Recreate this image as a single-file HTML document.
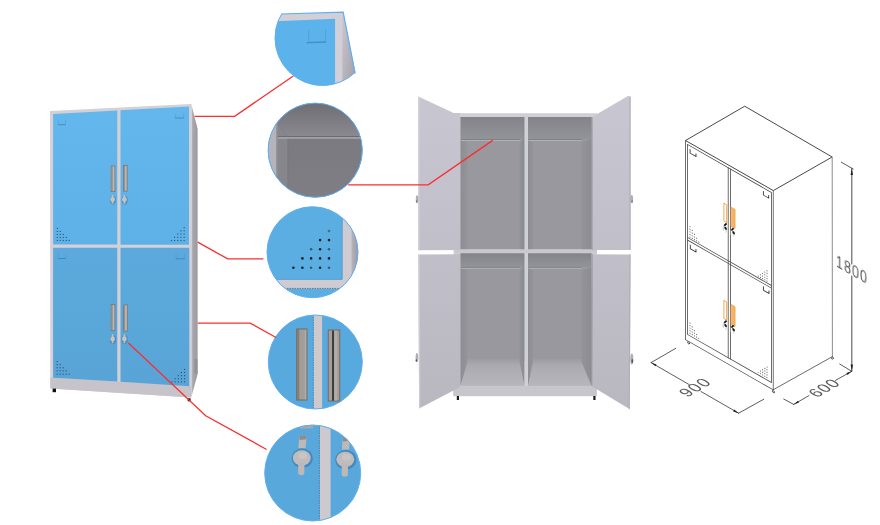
<!DOCTYPE html>
<html><head><meta charset="utf-8">
<style>
html,body{margin:0;padding:0;background:#fff;}
body{width:880px;height:525px;overflow:hidden;font-family:"Liberation Sans",sans-serif;}
svg{display:block;}
</style></head>
<body>
<svg width="880" height="525" viewBox="0 0 880 525">
<defs>
<linearGradient id="sideG" x1="0" y1="0" x2="1" y2="0">
<stop offset="0" stop-color="#c4c2ca"/><stop offset="0.3" stop-color="#a6a6ac"/><stop offset="0.85" stop-color="#9c9ca2"/><stop offset="1" stop-color="#a6a6ac"/>
</linearGradient>
<linearGradient id="blueU" x1="0" y1="0" x2="0" y2="1">
<stop offset="0" stop-color="#64b7ec"/><stop offset="1" stop-color="#5eb1e7"/>
</linearGradient>
<linearGradient id="blueL" x1="0" y1="0" x2="0" y2="1">
<stop offset="0" stop-color="#5caadd"/><stop offset="1" stop-color="#58a4d7"/>
</linearGradient>
<linearGradient id="intG" x1="0" y1="0" x2="0" y2="1">
<stop offset="0" stop-color="#9a9aa0"/><stop offset="1" stop-color="#a2a2a8"/>
</linearGradient>
<linearGradient id="topG" x1="0" y1="0" x2="0" y2="1">
<stop offset="0" stop-color="#838389"/><stop offset="1" stop-color="#8e8e94"/>
</linearGradient>
<linearGradient id="topG2" x1="0" y1="0" x2="0" y2="1">
<stop offset="0" stop-color="#88888e"/><stop offset="1" stop-color="#949499"/>
</linearGradient>
<linearGradient id="leftShade" x1="0" y1="0" x2="1" y2="0">
<stop offset="0" stop-color="#7a7a80" stop-opacity="0.55"/><stop offset="1" stop-color="#7a7a80" stop-opacity="0"/>
</linearGradient>
<linearGradient id="doorL" gradientUnits="userSpaceOnUse" x1="0" y1="96" x2="0" y2="409">
<stop offset="0" stop-color="#c8c7d1"/><stop offset="1" stop-color="#b9b8c1"/>
</linearGradient>
<linearGradient id="doorR" gradientUnits="userSpaceOnUse" x1="0" y1="96" x2="0" y2="409">
<stop offset="0" stop-color="#c8c7d1"/><stop offset="1" stop-color="#b9b8c1"/>
</linearGradient>
<clipPath id="c1"><path d="M281,14 L343.2,12.2 L355.6,73.6 L400,300 L200,300 L200,14.3 Z" clip-path="url(#c1b)"/></clipPath>
<clipPath id="c1poly"><path d="M200,14.3 L281,14 L343.2,12.2 L355.6,73.6 L400,300 L200,300 Z"/></clipPath>
<clipPath id="c1b"><circle cx="322.5" cy="38" r="47.5"/></clipPath>
<clipPath id="c2"><circle cx="315.2" cy="150.2" r="47.1"/></clipPath>
<clipPath id="c3"><circle cx="312.5" cy="252.2" r="45.5"/></clipPath>
<clipPath id="c4"><circle cx="315.3" cy="362" r="47"/></clipPath>
<clipPath id="c5"><circle cx="312.7" cy="473" r="48"/></clipPath>
<linearGradient id="side1" x1="0" y1="0" x2="1" y2="1">
<stop offset="0" stop-color="#ccc8d0"/><stop offset="1" stop-color="#9c98a0"/>
</linearGradient>
<linearGradient id="side3" x1="0" y1="0" x2="1" y2="0">
<stop offset="0" stop-color="#b8b4bc"/><stop offset="1" stop-color="#8e8a92"/>
</linearGradient>
<linearGradient id="c2top" x1="0" y1="0" x2="0" y2="1">
<stop offset="0" stop-color="#6b6b71"/><stop offset="1" stop-color="#89898f"/>
</linearGradient>
<linearGradient id="c2bot" x1="0" y1="0" x2="0" y2="1">
<stop offset="0" stop-color="#7a7a80"/><stop offset="1" stop-color="#7e7e84"/>
</linearGradient>
<linearGradient id="c2shade" x1="0" y1="0" x2="1" y2="0">
<stop offset="0" stop-color="#8c8c92" stop-opacity="0.8"/><stop offset="1" stop-color="#8c8c92" stop-opacity="0"/>
</linearGradient>
<linearGradient id="ceilG" x1="0" y1="0" x2="0" y2="1">
<stop offset="0" stop-color="#838389"/><stop offset="1" stop-color="#93939a"/>
</linearGradient>
<linearGradient id="lwallG" x1="0" y1="0" x2="1" y2="0">
<stop offset="0" stop-color="#8d8d93"/><stop offset="1" stop-color="#949499"/>
</linearGradient>
<linearGradient id="rwallG" x1="0" y1="0" x2="1" y2="0">
<stop offset="0" stop-color="#939399"/><stop offset="1" stop-color="#8c8c92"/>
</linearGradient>
<linearGradient id="floorG" x1="0" y1="0" x2="0" y2="1">
<stop offset="0" stop-color="#9c9ca2"/><stop offset="0.25" stop-color="#aaaab0"/><stop offset="1" stop-color="#b6b6bc"/>
</linearGradient>
</defs>
<rect width="880" height="525" fill="#fff"/>

<!-- ============ LEFT BLUE CABINET ============ -->
<g id="bluecab">
<polygon points="191.3,104 197.7,129 197.7,374 191.2,397.4" fill="url(#sideG)"/>
<rect x="194.3" y="359" width="3.4" height="14.5" fill="#8a8690" opacity="0.55"/>
<polygon points="50,111 191.3,104 191.2,397.4 50.3,388.6" fill="#d3d1d7"/>
<polygon points="50.3,377.4 191.2,385.9 191.2,397.4 50.3,388.6" fill="#c6c4ca"/>
<!-- doors -->
<polygon points="53.1,114 117.3,110.4 117.3,244.6 53.1,244.6" fill="url(#blueU)"/>
<polygon points="120.5,110.2 189,106.4 189,244.7 120.5,244.7" fill="url(#blueU)"/>
<polygon points="53.1,247.8 117.3,247.8 117.3,381.5 53.1,377.7" fill="url(#blueL)"/>
<polygon points="120.5,247.8 189.3,247.8 189.3,386.2 120.5,381.7" fill="url(#blueL)"/>
<!-- vents -->
<g fill="#2c4760" opacity="0.9">
<rect x="56.8" y="227.9" width="1.1" height="1.1"/><rect x="56.8" y="230.9" width="1.1" height="1.1"/><rect x="59.7" y="230.9" width="1.1" height="1.1"/><rect x="56.8" y="233.9" width="1.1" height="1.1"/><rect x="59.7" y="233.9" width="1.1" height="1.1"/><rect x="62.7" y="233.9" width="1.1" height="1.1"/><rect x="56.8" y="236.9" width="1.1" height="1.1"/><rect x="59.7" y="236.9" width="1.1" height="1.1"/><rect x="62.7" y="236.9" width="1.1" height="1.1"/><rect x="65.7" y="236.9" width="1.1" height="1.1"/><rect x="56.8" y="239.9" width="1.1" height="1.1"/><rect x="59.7" y="239.9" width="1.1" height="1.1"/><rect x="62.7" y="239.9" width="1.1" height="1.1"/><rect x="65.7" y="239.9" width="1.1" height="1.1"/><rect x="68.6" y="239.9" width="1.1" height="1.1"/><rect x="183.6" y="227.1" width="1.1" height="1.1"/><rect x="183.6" y="230.3" width="1.1" height="1.1"/><rect x="180.4" y="230.3" width="1.1" height="1.1"/><rect x="183.6" y="233.5" width="1.1" height="1.1"/><rect x="180.4" y="233.5" width="1.1" height="1.1"/><rect x="177.2" y="233.5" width="1.1" height="1.1"/><rect x="183.6" y="236.8" width="1.1" height="1.1"/><rect x="180.4" y="236.8" width="1.1" height="1.1"/><rect x="177.2" y="236.8" width="1.1" height="1.1"/><rect x="174.0" y="236.8" width="1.1" height="1.1"/><rect x="183.6" y="240.0" width="1.1" height="1.1"/><rect x="180.4" y="240.0" width="1.1" height="1.1"/><rect x="177.2" y="240.0" width="1.1" height="1.1"/><rect x="174.0" y="240.0" width="1.1" height="1.1"/><rect x="170.8" y="240.0" width="1.1" height="1.1"/><rect x="56.6" y="361.0" width="1.1" height="1.1"/><rect x="56.6" y="364.1" width="1.1" height="1.1"/><rect x="59.6" y="364.1" width="1.1" height="1.1"/><rect x="56.6" y="367.2" width="1.1" height="1.1"/><rect x="59.6" y="367.2" width="1.1" height="1.1"/><rect x="62.6" y="367.2" width="1.1" height="1.1"/><rect x="56.6" y="370.3" width="1.1" height="1.1"/><rect x="59.6" y="370.3" width="1.1" height="1.1"/><rect x="62.6" y="370.3" width="1.1" height="1.1"/><rect x="65.6" y="370.3" width="1.1" height="1.1"/><rect x="56.6" y="373.6" width="1.1" height="1.1"/><rect x="59.6" y="373.6" width="1.1" height="1.1"/><rect x="62.6" y="373.6" width="1.1" height="1.1"/><rect x="65.6" y="373.6" width="1.1" height="1.1"/><rect x="68.6" y="373.6" width="1.1" height="1.1"/><rect x="184.0" y="368.9" width="1.1" height="1.1"/><rect x="184.0" y="372.0" width="1.1" height="1.1"/><rect x="180.9" y="372.0" width="1.1" height="1.1"/><rect x="184.0" y="375.1" width="1.1" height="1.1"/><rect x="180.9" y="375.1" width="1.1" height="1.1"/><rect x="177.7" y="375.1" width="1.1" height="1.1"/><rect x="184.0" y="378.2" width="1.1" height="1.1"/><rect x="180.9" y="378.2" width="1.1" height="1.1"/><rect x="177.7" y="378.2" width="1.1" height="1.1"/><rect x="174.6" y="378.2" width="1.1" height="1.1"/><rect x="184.0" y="381.3" width="1.1" height="1.1"/><rect x="180.9" y="381.3" width="1.1" height="1.1"/><rect x="177.7" y="381.3" width="1.1" height="1.1"/><rect x="174.6" y="381.3" width="1.1" height="1.1"/><rect x="171.4" y="381.3" width="1.1" height="1.1"/>
</g>
<!-- card marks -->
<g fill="none" stroke="#3f88bd" stroke-width="0.6" opacity="0.55">
<path d="M58.3,120.3 v4.3 M65.5,120.3 v4.3"/>
<path d="M175.2,113.3 v4.6 M183.8,113.3 v4.6"/>
<path d="M58.3,253.4 v5 M65.9,253.4 v5"/>
<path d="M176,253.7 v5 M184.6,253.7 v5"/>
</g>
<g fill="none" stroke="#3a7fb2" stroke-width="0.9" opacity="0.85">
<path d="M58.3,124.7 h7.2"/>
<path d="M175.2,118 h8.6"/>
<path d="M58.3,258.5 h7.6"/>
<path d="M176,258.8 h8.6"/>
</g>
<!-- feet -->
<rect x="52.6" y="388.6" width="3.4" height="3.6" fill="#111"/>
<rect x="187.7" y="398.3" width="2.9" height="3" fill="#111"/>
<!-- handles -->
<g fill="#bcb8b8" stroke="#7f736c" stroke-width="0.8">
<rect x="111.2" y="166" width="3.7" height="25.6"/>
<rect x="123.4" y="165.5" width="3.7" height="25.6"/>
<rect x="111.2" y="304.5" width="3.7" height="26"/>
<rect x="123.6" y="305" width="3.7" height="26"/>
</g>
<g fill="#958d88">
<rect x="111.7" y="166.5" width="1" height="24.6"/>
<rect x="123.9" y="166" width="1" height="24.6"/>
<rect x="111.7" y="305" width="1" height="25"/>
<rect x="124.1" y="305.5" width="1" height="25"/>
</g>
<!-- locks -->
<g>
<ellipse cx="112.89999999999999" cy="200.1" rx="3.1" ry="4.6" fill="#3c6f99" opacity="0.45"/><path d="M111.8,194.9 h1.6 l0.3,3 h-2.2z M111.8,201.0 h1.6 v2.8 h-1.6z" fill="#c4c0c0"/><circle cx="112.6" cy="199.5" r="2.4" fill="#c6c2c2"/>
<ellipse cx="124.7" cy="200.1" rx="3.1" ry="4.6" fill="#3c6f99" opacity="0.45"/><path d="M123.60000000000001,194.9 h1.6 l0.3,3 h-2.2z M123.60000000000001,201.0 h1.6 v2.8 h-1.6z" fill="#c4c0c0"/><circle cx="124.4" cy="199.5" r="2.4" fill="#c6c2c2"/>
<ellipse cx="112.89999999999999" cy="339.5" rx="3.1" ry="4.6" fill="#3c6f99" opacity="0.45"/><path d="M111.8,334.29999999999995 h1.6 l0.3,3 h-2.2z M111.8,340.4 h1.6 v2.8 h-1.6z" fill="#c4c0c0"/><circle cx="112.6" cy="338.9" r="2.4" fill="#c6c2c2"/>
<ellipse cx="124.7" cy="339.5" rx="3.1" ry="4.6" fill="#3c6f99" opacity="0.45"/><path d="M123.60000000000001,334.29999999999995 h1.6 l0.3,3 h-2.2z M123.60000000000001,340.4 h1.6 v2.8 h-1.6z" fill="#c4c0c0"/><circle cx="124.4" cy="338.9" r="2.4" fill="#c6c2c2"/>
</g>
</g>

<!-- ============ MIDDLE OPEN CABINET ============ -->
<g id="opencab">
<!-- body frame -->
<rect x="453.5" y="113.2" width="143.5" height="273" fill="#cfcfd5"/>
<!-- interiors -->
<rect x="460.5" y="117" width="64.0" height="132.4" fill="#98989e"/>
<rect x="460.5" y="117" width="64.0" height="22.3" fill="url(#ceilG)"/>
<polygon points="460.5,139.3 467.5,142.3 467.5,249.4 460.5,249.4" fill="url(#lwallG)"/>
<polygon points="524.5,139.3 519.5,142.3 519.5,249.4 524.5,249.4" fill="url(#rwallG)"/>
<rect x="461.0" y="139.0" width="59.0" height="0.9" fill="#78787e"/>
<rect x="461.0" y="139.9" width="59.0" height="1.1" fill="#b0b0b6"/>
<rect x="528" y="117" width="63.5" height="132.4" fill="#98989e"/>
<rect x="528" y="117" width="63.5" height="22.3" fill="url(#ceilG)"/>
<polygon points="528,139.3 533,142.3 533,249.4 528,249.4" fill="url(#lwallG)"/>
<polygon points="591.5,139.3 581.5,142.3 581.5,249.4 591.5,249.4" fill="url(#rwallG)"/>
<rect x="528.5" y="139.0" width="53.5" height="0.9" fill="#78787e"/>
<rect x="528.5" y="139.9" width="53.5" height="1.1" fill="#b0b0b6"/>
<rect x="460.5" y="253.2" width="64.0" height="132.5" fill="#98989e"/>
<rect x="460.5" y="253.2" width="64.0" height="14.0" fill="url(#ceilG)"/>
<polygon points="460.5,267.2 467.5,270.2 467.5,362 460.5,385.7" fill="url(#lwallG)"/>
<polygon points="524.5,267.2 519.5,270.2 519.5,362 524.5,385.7" fill="url(#rwallG)"/>
<polygon points="467.5,359 519.5,359 519.5,362 524.5,385.7 460.5,385.7 467.5,362" fill="url(#floorG)"/>
<rect x="461.0" y="266.9" width="59.0" height="0.9" fill="#78787e"/>
<rect x="461.0" y="267.8" width="59.0" height="1.1" fill="#b0b0b6"/>
<rect x="528" y="253.2" width="63.5" height="132.5" fill="#98989e"/>
<rect x="528" y="253.2" width="63.5" height="14.0" fill="url(#ceilG)"/>
<polygon points="528,267.2 533,270.2 533,362 528,385.7" fill="url(#lwallG)"/>
<polygon points="591.5,267.2 581.5,270.2 581.5,362 591.5,385.7" fill="url(#rwallG)"/>
<polygon points="533,359 581.5,359 581.5,362 591.5,385.7 528,385.7 533,362" fill="url(#floorG)"/>
<rect x="528.5" y="266.9" width="53.5" height="0.9" fill="#78787e"/>
<rect x="528.5" y="267.8" width="53.5" height="1.1" fill="#b0b0b6"/>
<!-- center divider -->
<rect x="524.5" y="117" width="3.5" height="269" fill="#d0d0d7"/>
<rect x="522.6" y="117" width="1.9" height="244" fill="#88888e" opacity="0.35"/>
<!-- middle shelf -->
<rect x="455" y="249.4" width="142" height="3.8" fill="#c8c8ce"/>
<!-- plinth -->
<rect x="453.2" y="385.7" width="143.7" height="10.5" fill="#c6c6cc"/>
<rect x="456.8" y="396" width="2.2" height="4" fill="#1a1a1a"/>
<rect x="593.3" y="396" width="2.2" height="4" fill="#1a1a1a"/>
<!-- doors left -->
<polygon points="418.3,96.4 453.7,113.1 460.2,113.1 460.2,250 418.3,250.3" fill="url(#doorL)"/>
<polygon points="418.3,254.6 460.2,254.2 460.2,387 419.1,408.5" fill="url(#doorL)"/>
<!-- doors right -->
<polygon points="592.3,117.2 596.7,114.3 628,96 630.6,96.5 630.6,250 592.3,250" fill="url(#doorR)"/>
<polygon points="591.5,254.2 630.6,254.5 629.8,409.3 593,387" fill="url(#doorR)"/>
<g fill="#d0d0d8" opacity="0.8">
<polygon points="418.3,96.4 419.8,97.1 419.8,250.3 418.3,250.3"/>
<polygon points="418.3,254.6 419.8,254.6 420.4,407.8 419.1,408.5"/>
</g>
<g fill="#a9a9b1" opacity="0.7">
<rect x="629.3" y="96.5" width="1.3" height="153.5"/>
<polygon points="629.3,254.5 630.6,254.5 629.8,409.3 628.8,408.8"/>
</g>
<rect x="591.5" y="117.2" width="1.3" height="132.8" fill="#8e8e94" opacity="0.6"/>
<rect x="591.5" y="254.2" width="1.3" height="132" fill="#8e8e94" opacity="0.6"/>
<!-- hinge knobs -->
<g fill="#aeaeb6">
<ellipse cx="417.1" cy="199.3" rx="1.3" ry="4"/>
<ellipse cx="416.9" cy="357.5" rx="1.3" ry="4.5"/>
<ellipse cx="631.7" cy="199" rx="1.4" ry="4"/>
<ellipse cx="631.8" cy="359" rx="1.5" ry="5.5"/>
</g>
<g fill="#55555b">
<ellipse cx="416.6" cy="201.3" rx="0.7" ry="1.5" opacity="0.5"/>
<ellipse cx="416.4" cy="360.5" rx="0.8" ry="1.2"/>
<ellipse cx="632.1" cy="201.5" rx="0.7" ry="1.6" opacity="0.6"/>
<ellipse cx="632.3" cy="361" rx="0.9" ry="2"/>
</g>
</g>

<!-- ============ CIRCLES ============ -->
<!-- circle 1 -->
<g clip-path="url(#c1)">
<rect x="260" y="0" width="120" height="100" fill="#5cb2ea"/>
<polygon points="270,14.3 343.2,12.2 343.2,100 335.1,100 335.1,18.7 270,21.6" fill="#d3cfd7"/>
<polygon points="342.3,12.2 343.2,12.2 356,75 356,100 342.3,100" fill="url(#side1)"/>
<path d="M308.8,30 v12 M325.6,29.5 v12.3" fill="none" stroke="#4890c6" stroke-width="0.8" opacity="0.6"/>
<path d="M306.5,42.6 l19.5,-0.6" fill="none" stroke="#3d80b4" stroke-width="1.4" opacity="0.75"/>
</g>
<path d="M281,14 L343.2,12.2 L355.2,73.6" fill="none" stroke="#62aef0" stroke-width="1.2"/>
<circle cx="322.5" cy="38" r="47.5" fill="none" stroke="#62aef0" stroke-width="1" clip-path="url(#c1poly)"/>

<!-- circle 2 -->
<g clip-path="url(#c2)">
<rect x="265" y="100" width="100" height="100" fill="#7d7d83"/>
<rect x="265" y="100" width="100" height="36" fill="url(#c2top)"/>
<rect x="265" y="138" width="100" height="62" fill="url(#c2bot)"/>
<polygon points="277.5,124 287.5,136.5 287.5,200 277.5,200" fill="#86868c"/>
<rect x="287.5" y="138" width="1" height="62" fill="#76767c" opacity="0.6"/>
<rect x="277" y="136.2" width="90" height="1" fill="#68686e"/>
<rect x="277" y="137.2" width="90" height="1.5" fill="#a9a9af"/>
<path d="M277.5,124 L287.5,136.5" stroke="#7c7c82" stroke-width="0.6" fill="none"/>
<rect x="265" y="100" width="11.8" height="100" fill="#b6b4bb"/>
<rect x="276.4" y="100" width="1.6" height="100" fill="#8c8c92"/>
</g>
<circle cx="315.2" cy="150.2" r="47.1" fill="none" stroke="#62aef0" stroke-width="1"/>

<!-- circle 3 -->
<g clip-path="url(#c3)">
<rect x="262" y="202" width="100" height="100" fill="#5aaee2"/>
<rect x="262" y="279.1" width="100" height="9.6" fill="#cfcbd2"/>
<rect x="342" y="202" width="10" height="87" fill="#cfcbd2"/>
<rect x="351.5" y="202" width="10" height="100" fill="url(#side3)"/>
<line x1="262" y1="288.4" x2="352" y2="288.4" stroke="#6a6a70" stroke-width="0.9" stroke-dasharray="1.5,1"/>
<line x1="262" y1="279.4" x2="342" y2="279.4" stroke="#3f8cc4" stroke-width="0.7"/>
<line x1="342.3" y1="202" x2="342.3" y2="279.4" stroke="#3f8cc4" stroke-width="0.7"/>
<g fill="#14202c">
<circle cx="329" cy="231" r="1.3" fill="#4a6a88"/>
<circle cx="320.1" cy="240.1" r="1.3"/><circle cx="329" cy="240.1" r="1.3"/>
<circle cx="311.1" cy="249.2" r="1.3" fill="#3a5a78"/><circle cx="320.1" cy="249.2" r="1.3"/><circle cx="329" cy="249.2" r="1.3" fill="#3a5a78"/>
<circle cx="302.4" cy="258.4" r="1.3"/><circle cx="311.1" cy="258.4" r="1.3"/><circle cx="320.1" cy="258.4" r="1.3"/><circle cx="329" cy="258.4" r="1.3"/>
<circle cx="293.4" cy="267.7" r="1.3"/><circle cx="302.4" cy="267.7" r="1.3"/><circle cx="311.1" cy="267.7" r="1.3" fill="#3a5a78"/><circle cx="320.1" cy="267.7" r="1.3"/><circle cx="329" cy="267.7" r="1.3" fill="#3a5a78"/>
</g>
</g>
<circle cx="312.5" cy="252.2" r="45.5" fill="none" stroke="#62aef0" stroke-width="1"/>

<!-- circle 4 -->
<g clip-path="url(#c4)">
<rect x="265" y="312" width="100" height="100" fill="#58a9dd"/>
<rect x="313.6" y="312" width="8.5" height="100" fill="#cdc9cd"/>
<line x1="313.4" y1="312" x2="313.4" y2="412" stroke="#3a80b4" stroke-width="0.8" stroke-dasharray="1.5,1"/>
<rect x="296.7" y="329" width="10.2" height="71" fill="#a39d99" stroke="#7a6c62" stroke-width="1.1"/>
<rect x="297.3" y="329.6" width="2" height="70" fill="#6f635b" opacity="0.55"/>
<rect x="304.8" y="329.6" width="1.5" height="70" fill="#bdb7b2" opacity="0.6"/>
<rect x="328.3" y="330" width="11.4" height="71" fill="#a49e9a" stroke="#7c6e64" stroke-width="1.1"/>
<rect x="332.3" y="330.6" width="1.4" height="70" fill="#161616"/>
<rect x="334.5" y="330.6" width="2.5" height="70" fill="#bab5b2" opacity="0.6"/>
</g>
<circle cx="315.3" cy="362" r="47" fill="none" stroke="#62aef0" stroke-width="1"/>

<!-- circle 5 -->
<g clip-path="url(#c5)">
<rect x="260" y="420" width="105" height="105" fill="#58a8dc"/>
<rect x="319.8" y="420" width="10.8" height="105" fill="#cdc9cd"/>
<line x1="319.4" y1="420" x2="319.4" y2="525" stroke="#3a80b4" stroke-width="0.8" stroke-dasharray="1.5,1"/>
<rect x="300" y="424" width="13" height="4.5" fill="#aaa6aa"/>
<g transform="translate(0,0)">
<ellipse cx="302.3" cy="458.3" rx="10.6" ry="9.8" fill="#2c6796" opacity="0.45"/>
<path d="M299.3,436 L306.6,435.3 L305.6,448 L298.4,448 Z" fill="#bdb9b9"/>
<path d="M299.3,436 L306.6,435.3 L306.2,439.3 L299.6,440 Z" fill="#8f8b8b"/>
<ellipse cx="301.8" cy="457.8" rx="9" ry="7.6" fill="#c0bcbc"/>
<rect x="298.2" y="462" width="6.2" height="13" rx="2" fill="#bdb9b9"/>
<ellipse cx="302.8" cy="455.8" rx="4.5" ry="3.2" fill="#cdc9c9" opacity="0.7"/>
</g>
<g transform="translate(43.5,1.5)">
<ellipse cx="302.3" cy="458.3" rx="10.6" ry="9.8" fill="#2c6796" opacity="0.45"/>
<path d="M299.3,436 L306.6,435.3 L305.6,448 L298.4,448 Z" fill="#bdb9b9"/>
<path d="M299.3,436 L306.6,435.3 L306.2,439.3 L299.6,440 Z" fill="#8f8b8b"/>
<ellipse cx="301.8" cy="457.8" rx="9" ry="7.6" fill="#c0bcbc"/>
<rect x="298.2" y="462" width="6.2" height="13" rx="2" fill="#bdb9b9"/>
<ellipse cx="302.8" cy="455.8" rx="4.5" ry="3.2" fill="#cdc9c9" opacity="0.7"/>
</g>
<g>
</g>
</g>
<circle cx="312.7" cy="473" r="48" fill="none" stroke="#62aef0" stroke-width="1"/>

<!-- ============ LINE DRAWING ============ -->
<g id="drawing" fill="none" stroke-linecap="round" stroke-linejoin="round">
<!-- top face + side -->
<polygon points="744.4,106.4 685.5,140.5 773.3,190.6 831.8,157.2" stroke="#333" stroke-width="0.9"/>
<line x1="832.2" y1="157.2" x2="832.4" y2="356.6" stroke="#8c8c8c" stroke-width="1"/>
<line x1="832.4" y1="356.6" x2="773.3" y2="389.7" stroke="#444" stroke-width="0.8"/>
<line x1="773.3" y1="190.6" x2="773.3" y2="389.7" stroke="#555" stroke-width="0.8"/>
<!-- front face in local coords -->
<g transform="matrix(1,0.5726,0,1,685.5,140.5)">
<g stroke="#4a4a4a" stroke-width="0.8">
<line x1="0" y1="0" x2="0" y2="199.2"/>
<line x1="0" y1="199.2" x2="87.8" y2="199.2"/>
<rect x="1.9" y="2.8" width="84" height="190"/>
<line x1="42.7" y1="2.8" x2="42.7" y2="192.8"/>
<line x1="44.9" y1="2.8" x2="44.9" y2="192.8"/>
<line x1="1.9" y1="95.8" x2="85.9" y2="95.8"/>
<line x1="1.9" y1="98.4" x2="85.9" y2="98.4"/>
</g>
<!-- card marks -->
<g stroke="#333" stroke-width="0.9">
<path d="M4.6,6.4 V10 H10.5 V7.4"/>
<path d="M77.9,6.4 V10 H83.2 V7.4"/>
<path d="M4.8,101.9 V105.5 H10.5 V102.9"/>
<path d="M77.9,101.6 V105.2 H83.5 V102.6"/>
</g>
<!-- handles -->
<rect x="38.4" y="40.8" width="2.8" height="17.6" stroke="#f0a040" stroke-width="0.9"/>
<rect x="45.9" y="40.7" width="3.6" height="18.9" fill="#f5b466" stroke="#ec9c3c" stroke-width="0.7"/>
<rect x="38.4" y="138" width="2.8" height="18" stroke="#f0a040" stroke-width="0.9"/>
<rect x="45.9" y="137.9" width="3.6" height="20.1" fill="#f5b466" stroke="#ec9c3c" stroke-width="0.7"/>
<!-- locks -->
<g stroke="#111" stroke-width="1.3">
<line x1="40.8" y1="59.9" x2="38.9" y2="62.7"/>
<line x1="47.8" y1="60.6" x2="46.1" y2="63.2"/>
<line x1="40.8" y1="157.1" x2="38.9" y2="159.9"/>
<line x1="47.8" y1="157.8" x2="46.1" y2="160.4"/>
</g>
<g fill="#1a1a1a" stroke="none">
<ellipse cx="40.1" cy="64.9" rx="1.3" ry="1.5"/>
<ellipse cx="48.1" cy="64.6" rx="1.3" ry="1.5"/>
<ellipse cx="40.1" cy="162.1" rx="1.3" ry="1.5"/>
<ellipse cx="48.1" cy="161.8" rx="1.3" ry="1.5"/>
</g>
<g stroke="#b0b0b0" stroke-width="0.6">
<path d="M38.3,63.3 q-1.6,2.3 -0.4,4.8 M40.8,66.8 l-0.5,1.8"/>
<path d="M45.6,63.6 q-1.6,2.3 -0.4,4.8 M48.6,66.4 l-0.4,1.5"/>
<path d="M38.3,160.5 q-1.6,2.3 -0.4,4.8 M40.8,164 l-0.5,1.8"/>
<path d="M45.6,160.8 q-1.6,2.3 -0.4,4.8 M48.6,163.6 l-0.4,1.5"/>
</g>
<!-- vents -->
<g fill="#555" stroke="none">
<g id="ventL">
<circle cx="4.5" cy="83.6" r="0.55"/><circle cx="4.5" cy="86.2" r="0.55"/><circle cx="6.7" cy="86.2" r="0.55"/><circle cx="4.5" cy="88.8" r="0.55"/><circle cx="6.7" cy="88.8" r="0.55"/><circle cx="8.9" cy="88.8" r="0.55"/><circle cx="4.5" cy="91.4" r="0.55"/><circle cx="6.7" cy="91.4" r="0.55"/><circle cx="8.9" cy="91.4" r="0.55"/><circle cx="11.1" cy="91.4" r="0.55"/><circle cx="4.5" cy="94.0" r="0.55"/><circle cx="6.7" cy="94.0" r="0.55"/><circle cx="8.9" cy="94.0" r="0.55"/><circle cx="11.1" cy="94.0" r="0.55"/><circle cx="13.3" cy="94.0" r="0.55"/>
</g>
<use href="#ventL" transform="translate(0,96.3)"/>
<g id="ventR" transform="translate(88,0) scale(-1,1)">
<use href="#ventL" transform="translate(2,0)"/>
</g>
<use href="#ventR" transform="translate(0,96.3)"/>
</g>
<!-- feet -->
<g stroke="#333" stroke-width="0.7" fill="#fff">
<circle cx="3" cy="200.6" r="1"/>
<circle cx="87.8" cy="200.8" r="1"/>
</g>
</g>
<circle cx="832.4" cy="358.2" r="1" stroke="#333" stroke-width="0.7" fill="#fff"/>

<!-- dimension lines -->
<g stroke="#333" stroke-width="0.8">
<line x1="841.3" y1="162.2" x2="853.2" y2="169"/>
<line x1="851.8" y1="168.3" x2="851.8" y2="264" stroke-width="1.1" stroke="#5a5a5a"/>
<line x1="851.8" y1="276" x2="851.8" y2="371.3" stroke-width="1.1" stroke="#5a5a5a"/>
<line x1="839.7" y1="364" x2="851.7" y2="371.3"/>
<line x1="783.7" y1="399" x2="793.7" y2="404.4"/>
<line x1="793.7" y1="404.4" x2="809" y2="395.6"/>
<line x1="835.5" y1="380.4" x2="851.7" y2="371.3"/>
<line x1="675.8" y1="348.3" x2="651.1" y2="362.6"/>
<line x1="651.1" y1="362.6" x2="689" y2="384.5"/>
<line x1="701" y1="391.5" x2="738.6" y2="413.2"/>
<line x1="738.6" y1="413.2" x2="763.8" y2="399.2"/>
</g>
<g fill="#222" stroke="none">
<path d="M851.8,168.6 l-1.2,6.5 h2.4z"/>
<path d="M851.8,371 l-1.2,-6.5 h2.4z"/>
<path d="M651.1,362.6 L655.4,366.3 L656.5,364.4 Z"/>
<path d="M738.6,413.2 L733.2,411.4 L734.3,409.5 Z"/>
<path d="M793.7,404.4 L799.1,402.6 L798,400.7 Z"/>
<path d="M851.7,371.3 L847.5,375 L846.4,373.1 Z"/>
</g>
<!-- dimension text -->
<g font-family="Liberation Sans, sans-serif" fill="#585858" stroke="none" opacity="0.99">
<text transform="matrix(0.866,0.5,0,1.12,836,266)" font-size="14.5" letter-spacing="1.2">1800</text>
<text transform="matrix(0.797,-0.46,0.866,0.5,687.5,397.6)" font-size="17" letter-spacing="1.2">900</text>
<text transform="matrix(0.797,-0.46,0.866,0.5,817.1,398.1)" font-size="17" letter-spacing="0.9">600</text>
</g>
</g>

<!-- ============ RED CALLOUT LINES ============ -->
<g fill="none" stroke="#fb2e2e" stroke-width="1.3">
<polyline points="194.6,116.3 234.7,116.3 293.3,76"/>
<polyline points="197.7,242.1 227.7,258.9 263.4,258.9"/>
<polyline points="197.7,323.1 250.2,323.1 276,337.5"/>
<polyline points="128.4,343 205.7,415.7 266.6,449.5"/>
<polyline points="348.2,184.9 428.2,184.9 492.7,140.4"/>
</g>

</svg>
</body></html>
